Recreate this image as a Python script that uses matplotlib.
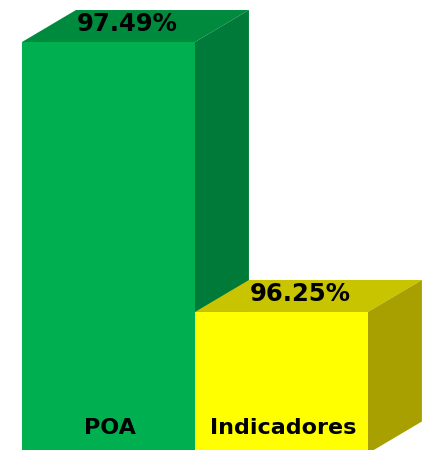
import matplotlib
matplotlib.use("Agg")
import matplotlib.pyplot as plt
from matplotlib.patches import Polygon
from matplotlib.transforms import ScaledTranslation

categories = ["POA", "Indicadores"]
values = [97.49, 96.25]
value_labels = ["97.49%", "96.25%"]
front_colors = ["#00B050", "#FFFF00"]
top_colors = ["#008A3E", "#C8C400"]
side_colors = ["#007A38", "#A8A000"]

base = 95.60
fig = plt.figure(figsize=(4.25, 4.5), dpi=100)
ax = fig.add_axes([0, 0, 1, 1])
ax.set_xlim(-0.627, 1.830)
ax.set_ylim(95.616, 97.683)
ax.axis("off")

dx_in, dy_in = 0.54, 0.32
off = ScaledTranslation(dx_in, dy_in, fig.dpi_scale_trans)
depth_tr = ax.transData + off

xs = list(range(len(categories)))
w = 1.0
ax.bar(xs, [v - base for v in values], bottom=base, width=w,
       color=front_colors, edgecolor="none", zorder=3)

inv = ax.transData.inverted()
def disp(x, y, shifted):
    return (depth_tr if shifted else ax.transData).transform((x, y))

for i, v in enumerate(values):
    x0, x1 = i - w / 2, i + w / 2
    pts_top = [disp(x0, v, False), disp(x1, v, False), disp(x1, v, True), disp(x0, v, True)]
    pts_side = [disp(x1, base, False), disp(x1, v, False), disp(x1, v, True), disp(x1, base, True)]
    ax.add_patch(Polygon(inv.transform(pts_top), closed=True, facecolor=top_colors[i],
                         edgecolor="none", zorder=2))
    ax.add_patch(Polygon(inv.transform(pts_side), closed=True, facecolor=side_colors[i],
                         edgecolor="none", zorder=2))
    lbl_tr = ax.transData + ScaledTranslation(dx_in / 2 - 0.08, dy_in / 2 + 0.02, fig.dpi_scale_trans)
    ax.text(i, v, value_labels[i], transform=lbl_tr, ha="center", va="center",
            fontsize=17.5, fontweight="bold", color="black", zorder=5)
    ax.text(i + 0.01, 0.049, categories[i], transform=ax.get_xaxis_transform(),
            ha="center", va="center", fontsize=16, fontweight="bold", color="black", zorder=5)

fig.savefig("out.png", dpi=100)
